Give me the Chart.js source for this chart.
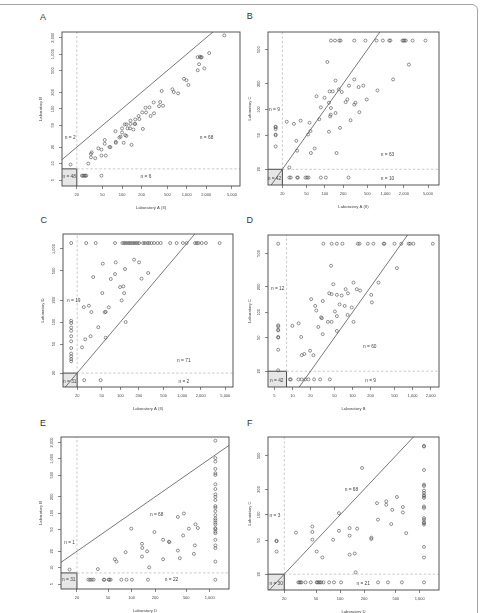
<!DOCTYPE html>
<html>
<head>
<meta charset="utf-8">
<script src="https://cdn.jsdelivr.net/npm/chart.js@4.4.1/dist/chart.umd.min.js"></script>
<style>
  body { margin: 0; width: 480px; height: 613px; background: #fff; position: relative; overflow: hidden; font-family: "Liberation Sans", Arial, sans-serif; }
  canvas { position: absolute; }
  .frame { position: absolute; left: -20px; top: 4px; width: 496px; height: 700px; border: 1.5px solid #a3a3a3; border-radius: 6px; }
  .tag { position: absolute; font-size: 9px; line-height: 9px; color: #333; }
</style>
</head>
<body>
<div class="frame"></div>
<div class="tag" style="left:40px;top:12.8px">A</div>
<div class="tag" style="left:246.8px;top:12.2px">B</div>
<div class="tag" style="left:40.5px;top:215.5px">C</div>
<div class="tag" style="left:246.5px;top:215.5px">D</div>
<div class="tag" style="left:40px;top:418.8px">E</div>
<div class="tag" style="left:247px;top:418.8px">F</div>
<script>
// tick values for each laboratory axis
const labAIITicks = [20, 50, 100, 200, 500, 1000, 2000, 5000];
const labBTicks = [5, 10, 20, 50, 100, 200, 500, 1000, 2000];
const labCTicks = [20, 50, 100, 200, 500];
const labDTicks = [20, 50, 100, 200, 500, 1000];

// y = x reference line
const identity = [1, 100000];

// A : Laboratory A (II) vs Laboratory B
const aX = [3800, 2220, 1470, 1600, 1700, 1650, 1550, 1480, 1870, 906, 990, 1060, 600, 630, 735, 410, 388, 430, 372, 308,
  265, 230, 235, 312, 276, 205, 180, 160, 185, 156, 160, 135, 135, 133, 150, 210, 110, 117, 100, 122,
  100, 112, 117, 95, 91, 106, 140, 79, 80, 80, 66, 64, 54, 54, 48, 56, 48, 43, 38.5, 33,
  34, 33, 30, 16, 24, 25, 26, 27, 28, 48];
const aY = [2200, 1045, 880, 900, 880, 870, 654, 508, 550, 354, 334, 273, 228, 203, 192, 212, 133, 114, 112, 131,
  107, 105, 86, 83, 74, 86, 74, 64, 65, 53, 53, 61, 53, 44, 42, 43, 52, 52, 44, 44,
  37, 33, 32, 31, 30, 24, 22, 39, 25, 24, 20, 20, 27, 23, 18, 14, 14, 19, 12.5, 15,
  16, 13, 10, 9.6, 6, 6, 6, 6, 6, 6];
const loqA = [20, 8];
const nTextA = ['n = 2', 'n = 68', 'n = 6', 'n = 48'];
const nXA = [15.8, 2026, 234, 15.2];
const nYA = [29.4, 29.4, 5.86, 5.86];

// B : Laboratory A (II) vs Laboratory C
const bX = [2420, 1330, 110, 150, 305, 120, 135, 170, 190, 250, 360, 430, 735, 73, 99, 117, 235, 220, 305, 320,
  490, 86, 126, 125, 122, 150, 370, 81, 178, 265, 23.6, 31, 40, 56, 58, 53, 117, 34, 68, 35,
  59, 156, 26,
  126, 147, 173, 182, 305, 466, 710, 902, 1150, 1200, 1900, 1975, 2050, 2155, 2780, 4540,
  26, 27.5, 35, 36, 48, 51, 54, 86, 104, 245,
  15.5, 15.5, 15.5, 15.5, 15.5, 15.5];
const bY = [335, 225, 360, 218, 225, 163, 163, 172, 160, 190, 183, 190, 167, 143, 137, 120, 131, 122, 114, 120,
  131, 106, 104, 87, 83, 91, 93, 77, 61, 75, 72, 68, 74, 70, 56, 51, 55, 43, 35, 33,
  31, 31, 21,
  640, 640, 640, 640, 640, 640, 640, 640, 640, 640, 640, 640, 640, 640, 640, 640,
  16, 16, 16, 16, 16, 16, 16, 16, 16, 16,
  63, 62, 59, 51, 50, 37];
const loqB = [20, 20];
const nTextB = ['n = 9', 'n = 63', 'n = 10', 'n = 42'];
const nXB = [14.8, 1078, 1078, 14.8];
const nYB = [99, 29.4, 15.7, 15.7];

// C : Laboratory A (II) vs Laboratory D
const cX = [167, 201, 52, 84, 119, 36.4, 70, 82, 220, 282, 51, 99, 112, 115, 105, 25.6, 31, 34, 65, 56,
  58, 44, 122, 27, 33, 58, 24,
  16, 28, 40, 82, 108, 115, 122, 130, 138, 147, 156, 167, 178, 189, 201, 234, 250, 274, 292, 318,
  352, 400, 450, 640, 815, 1030, 1180, 1620, 1730, 1840, 2080, 2430, 4050,
  26, 48,
  16, 16, 16, 16, 16, 16, 16, 16, 16, 16, 16];
const cY = [714, 656, 629, 656, 532, 413, 388, 454, 392, 469, 249, 301, 308, 249, 198, 160, 167, 137, 159, 136,
  138, 85, 100, 58, 64, 61, 45,
  1206, 1206, 1206, 1206, 1206, 1206, 1206, 1206, 1206, 1206, 1206, 1206, 1206, 1206, 1206, 1206, 1206, 1206, 1206, 1206,
  1206, 1206, 1206, 1206, 1206, 1206, 1206, 1206, 1206, 1206, 1206, 1206, 1206,
  16, 16,
  104, 97, 84, 76, 64, 54.5, 44, 37, 34, 31, 29];
const loqC = [20, 20];
const nTextC = ['n = 19', 'n = 71', 'n = 2', 'n = 31'];
const nXC = [17.6, 1066, 1066, 15.2];
const nYC = [197, 29.5, 15.3, 15.3];

// D : Laboratory B vs Laboratory C
const dX = [548, 44, 48, 104, 271, 118, 77, 41, 45, 55, 66, 84, 134, 205, 20.5, 32, 24, 25, 61, 74,
  97, 51, 55, 30, 31, 83, 104, 39, 45, 27, 10, 12.7, 210, 14, 32, 55, 19.7, 15.8, 14.3, 22.4,
  5.8, 32.8, 45, 55, 68, 123, 131, 180, 223, 330, 340, 500, 650, 860, 910, 1030, 2170,
  9.1, 9.4, 12.6, 14.3, 16.3, 18.5, 23, 29, 42,
  5.8, 5.8, 5.8, 5.8, 5.8, 5.8, 5.8, 5.8];
const dY = [334, 356, 215, 225, 225, 188, 188, 168, 164, 161, 158, 168, 181, 161, 143, 136, 119, 105, 124, 119,
  114, 102, 90, 87, 85, 93, 77, 77, 77, 67, 69, 74, 131, 51, 55, 60, 35, 32, 31, 31,
  650, 650, 650, 650, 650, 650, 650, 650, 650, 650, 650, 650, 650, 650, 650, 650, 650,
  16, 16, 16, 16, 16, 16, 16, 16, 16,
  70, 68, 62, 61, 51, 50, 36, 20.5];
const loqD = [8, 20];
const nTextD = ['n = 12', 'n = 60', 'n = 9', 'n = 42'];
const nXD = [5.7, 194, 200, 5.5];
const nYD = [192, 38.9, 15.6, 15.6];

// E : Laboratory D vs Laboratory B
const eX = [391, 467, 658, 705, 540, 457, 99, 196, 253, 300, 305, 136, 137, 158, 391, 645, 627, 84, 136, 253,
  414, 61, 64, 168, 37,
  1180, 1180, 1180, 1180, 1180, 1180, 1180, 1180, 1180, 1180, 1180, 1180, 1180, 1180, 1180, 1180, 1180, 1180, 1180, 1180,
  1180, 1180, 1180, 1180, 1180, 1180, 1180,
  16.1,
  28, 29.4, 31, 32.7, 44, 45, 51, 52, 54, 74, 86, 101, 162, 1180];
const eY = [85.5, 98.6, 62.5, 53.5, 52, 39, 52, 45, 32.5, 30, 29.4, 27.4, 23, 20, 20.6, 25.6, 17.9, 19.2, 16, 14.3,
  14.9, 14.3, 12.9, 10.1, 9.4,
  2150, 1030, 890, 653, 543, 505, 340, 278, 222, 200, 174, 135, 126, 109, 92, 80, 74, 67, 62, 53,
  51, 46, 43, 32.5, 25.6, 22.8, 12.9,
  9.2,
  6, 6, 6, 6, 6, 6, 6, 6, 6, 6, 6, 6, 6, 6];
const loqE = [20, 8];
const nTextE = ['n = 1', 'n = 68', 'n = 22', 'n = 31'];
const nXE = [16.1, 209, 324, 15.7];
const nYE = [29.2, 94.5, 5.93, 5.93];

// F : Laboratory D vs Laboratory C
const fX = [189, 517, 291, 380, 380, 452, 614, 614, 299, 439, 676, 97, 45, 45, 45, 28, 97, 132, 164, 132,
  82, 247, 247, 51, 60, 132, 153, 157,
  1130, 1130, 1130, 1130, 1130, 1130, 1130, 1130, 1130, 1130, 1130, 1130, 1130, 1130, 1130, 1130, 1130, 1130, 1130,
  30, 31, 32, 33, 37, 43, 51, 52, 54, 56, 58, 62, 73, 84, 103, 300, 399, 597, 1130,
  16, 16, 16];
const fY = [359, 163, 138, 145, 132, 115, 124, 107, 88, 78, 61, 105, 73, 63, 51, 62, 65, 70, 69, 57,
  51, 54, 52, 37, 31.5, 34, 35, 21,
  654, 643, 340, 228, 220, 194, 182, 171, 166, 159, 126, 121, 92, 88, 82, 80, 77, 42, 31.5,
  16, 16, 16, 16, 16, 16, 16, 16, 16, 16, 16, 16, 16, 16, 16, 16, 16, 16, 16,
  49.6, 49, 37];
const loqF = [20, 20];
const nTextF = ['n = 3', 'n = 68', 'n = 21', 'n = 30'];
const nXF = [15.3, 139, 195, 15.8];
const nYF = [98.6, 198, 15.6, 15.6];

Chart.defaults.font.family = '"Liberation Sans", Arial, sans-serif';
Chart.defaults.color = '#444';

const FONT = '"Liberation Sans", Arial, sans-serif';
const fmt = v => Number(v).toLocaleString('en-US');

// layout: canvas rect, plot box, axis ranges
const panels = [
  { canvas: [26, 16, 220, 196], box: [62, 32, 240, 186], xr: [11.8, 6650], yr: [3.89, 2540],
    xt: labAIITicks, yt: labBTicks, xl: 'Laboratory A (II)', yl: 'Laboratory B', ytx: 40.7,
    xs: aX, ys: aY, loq: loqA, nt: nTextA, nx: nXA, ny: nYA },
  { canvas: [244, 16, 202, 195], box: [268, 32, 439, 185], xr: [11.6, 7580], yr: [13.1, 806],
    xt: labAIITicks, yt: labCTicks, xl: 'Laboratory A (II)', yl: 'Laboratory C', ytx: 250,
    xs: bX, ys: bY, loq: loqB, nt: nTextB, nx: nXB, ny: nYB },
  { canvas: [26, 218, 213, 195], box: [63, 234, 233, 387], xr: [11.8, 6660], yr: [12.9, 1604],
    xt: labAIITicks, yt: labDTicks, xl: 'Laboratory A (II)', yl: 'Laboratory D', ytx: 43,
    xs: cX, ys: cY, loq: loqC, nt: nTextC, nx: nXC, ny: nYC },
  { canvas: [244, 219, 202, 194], box: [268, 235, 439, 387], xr: [3.93, 2750], yr: [13.0, 825],
    xt: labBTicks, yt: labCTicks, xl: 'Laboratory B', yl: 'Laboratory C', ytx: 250,
    xs: dX, ys: dY, loq: loqD, nt: nTextD, nx: nXD, ny: nYD },
  { canvas: [26, 421, 209, 194], box: [61, 437, 229, 589], xr: [12.5, 1763], yr: [4.05, 2514],
    xt: labDTicks, yt: labBTicks, xl: 'Laboratory D', yl: 'Laboratory B', ytx: 40.7,
    xs: eX, ys: eY, loq: loqE, nt: nTextE, nx: nXE, ny: nYE },
  { canvas: [244, 421, 202, 195], box: [268, 437, 439, 590], xr: [12.5, 1743], yr: [13.0, 833],
    xt: labDTicks, yt: labCTicks, xl: 'Laboratory D', yl: 'Laboratory C', ytx: 250,
    xs: fX, ys: fY, loq: loqF, nt: nTextF, nx: nXF, ny: nYF }
];

function drawPanel(p) {
  const [cl, ct, cw, ch] = p.canvas;
  const [L, T, R, B] = p.box;
  const cv = document.createElement('canvas');
  cv.width = cw; cv.height = ch;
  cv.style.left = cl + 'px'; cv.style.top = ct + 'px';
  cv.style.width = cw + 'px'; cv.style.height = ch + 'px';
  document.body.appendChild(cv);

  const pts = p.xs.map((v, i) => ({ x: v, y: p.ys[i] }));
  const [lx, ly] = p.loq;

  const extras = {
    id: 'extras',
    beforeDatasetsDraw(chart) {
      const { ctx, chartArea: ca, scales: { x, y } } = chart;
      const px = x.getPixelForValue(lx), py = y.getPixelForValue(ly);
      ctx.save();
      ctx.fillStyle = '#e6e6e6';
      ctx.fillRect(ca.left, py, px - ca.left, ca.bottom - py);
      ctx.strokeStyle = '#333';
      ctx.lineWidth = 0.9;
      ctx.beginPath();
      ctx.moveTo(ca.left, py); ctx.lineTo(px, py); ctx.lineTo(px, ca.bottom);
      ctx.stroke();
      ctx.restore();
    },
    afterDatasetsDraw(chart) {
      const { ctx, chartArea: ca } = chart;
      ctx.save();
      ctx.strokeStyle = '#444';
      ctx.lineWidth = 0.9;
      ctx.strokeRect(ca.left, ca.top, ca.right - ca.left, ca.bottom - ca.top);
      ctx.restore();
    },
    afterDraw(chart) {
      const { ctx, chartArea: ca, scales: { x, y } } = chart;
      ctx.save();
      ctx.fillStyle = '#444';
      ctx.textAlign = 'center';
      ctx.textBaseline = 'middle';
      ctx.font = '4px ' + FONT;
      p.yt.forEach(v => {
        ctx.save();
        ctx.translate(ca.left - 9, y.getPixelForValue(v));
        ctx.rotate(-Math.PI / 2);
        ctx.fillText(fmt(v), 0, 0);
        ctx.restore();
      });
      ctx.font = '4.8px ' + FONT;
      p.nt.forEach((t, i) => {
        ctx.fillText(t, x.getPixelForValue(p.nx[i]), y.getPixelForValue(p.ny[i]));
      });
      ctx.restore();
    }
  };

  new Chart(cv, {
    type: 'scatter',
    data: {
      datasets: [
        { data: pts, pointRadius: 1.5, borderWidth: 0.6, borderColor: '#4a4a4a', backgroundColor: 'rgba(0,0,0,0)' },
        { data: [{ x: identity[0], y: identity[0] }, { x: identity[1], y: identity[1] }],
          showLine: true, pointRadius: 0, borderColor: '#555', borderWidth: 0.8 },
        { data: [{ x: lx, y: ly }, { x: lx, y: p.yr[1] }],
          showLine: true, pointRadius: 0, borderColor: '#bdbdbd', borderWidth: 0.8, borderDash: [2.5, 2] },
        { data: [{ x: lx, y: ly }, { x: p.xr[1], y: ly }],
          showLine: true, pointRadius: 0, borderColor: '#bdbdbd', borderWidth: 0.8, borderDash: [2.5, 2] }
      ]
    },
    options: {
      responsive: false,
      animation: false,
      devicePixelRatio: 1,
      events: [],
      layout: { autoPadding: false, padding: { left: 0, top: T - ct, right: cl + cw - R, bottom: 0 } },
      plugins: { legend: { display: false }, tooltip: { enabled: false } },
      scales: {
        x: {
          type: 'logarithmic', min: p.xr[0], max: p.xr[1],
          afterBuildTicks: s => { s.ticks = p.xt.map(v => ({ value: v })); },
          afterFit: s => { s.height = ct + ch - B; },
          border: { display: false },
          grid: { drawOnChartArea: false, drawTicks: true, tickLength: 3, color: '#555', lineWidth: 0.7 },
          ticks: { autoSkip: false, maxRotation: 0, padding: 3.6, font: { size: 4 }, color: '#444', callback: v => fmt(v) },
          title: { display: true, text: p.xl, font: { size: 4.2 }, color: '#444', padding: { top: 0, bottom: 2 } }
        },
        y: {
          type: 'logarithmic', min: p.yr[0], max: p.yr[1],
          afterBuildTicks: s => { s.ticks = p.yt.map(v => ({ value: v })); },
          afterFit: s => { s.width = L - cl; },
          border: { display: false },
          grid: { drawOnChartArea: false, drawTicks: true, tickLength: 3, color: '#555', lineWidth: 0.7 },
          ticks: { display: false },
          title: { display: true, text: p.yl, font: { size: 4.2 }, color: '#444', padding: { top: p.ytx - cl - 2.5, bottom: 0 } }
        }
      }
    },
    plugins: [extras]
  });
}

panels.forEach(drawPanel);
</script>
</body>
</html>
